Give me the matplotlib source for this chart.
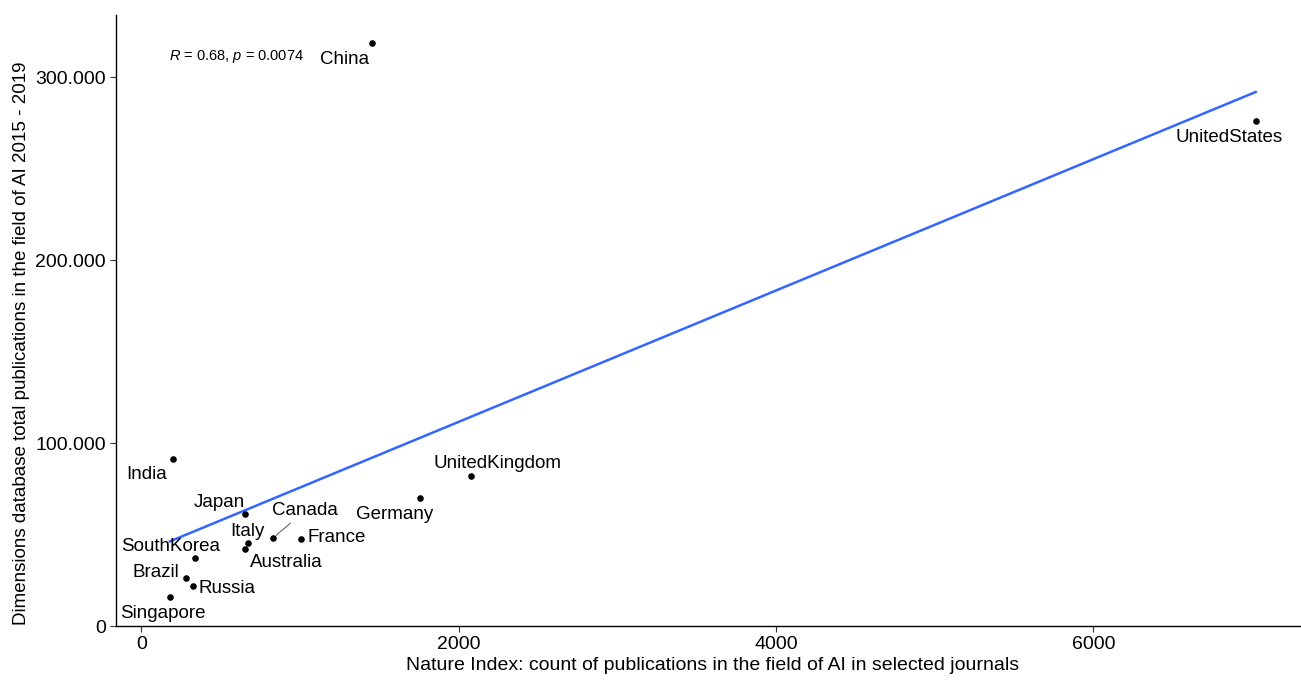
import matplotlib
matplotlib.use("Agg")
import matplotlib.pyplot as plt
import numpy as np

plt.rcParams["font.family"] = ["Liberation Sans", "DejaVu Sans"]
plt.rcParams["mathtext.fontset"] = "custom"
plt.rcParams["mathtext.it"] = "Liberation Sans:italic"
plt.rcParams["mathtext.rm"] = "Liberation Sans"

# Nature Index AI counts vs Dimensions AI publications 2015-2019
countries = ["China", "UnitedStates", "UnitedKingdom", "Germany", "India", "Japan",
             "Italy", "Australia", "Canada", "France", "SouthKorea", "Brazil",
             "Russia", "Singapore"]
nature_index = [1455, 7023, 2076, 1759, 199, 652, 674, 652, 829, 1005, 340, 281, 325, 180]
dimensions = [318600, 275800, 82200, 70000, 91650, 61650, 45650, 42540, 48340, 47800,
              37430, 26350, 22080, 16000]

# label offsets in pixels (repelled placement)
offsets = {
    "China": (-28, -16), "UnitedStates": (-27, -16), "UnitedKingdom": (27, 12),
    "Germany": (-26, -16), "India": (-26, -16), "Japan": (-26, 11),
    "Italy": (-1, 11), "Australia": (42, -14), "Canada": (32, 27),
    "France": (36, 1), "SouthKorea": (-25, 11), "Brazil": (-30, 6),
    "Russia": (34, -2), "Singapore": (-7, -16),
}

x = np.array(nature_index, dtype=float)
y = np.array(dimensions, dtype=float)

fig = plt.figure(figsize=(13.01, 6.8), dpi=100)
ax = fig.add_axes([0.0889, 0.0787, 0.918, 0.8988])

# linear fit over the data range
slope, intercept = np.polyfit(x, y, 1)
xs = np.linspace(x.min(), x.max(), 100)
ax.plot(xs, slope * xs + intercept, color="#3366FF", lw=1.8, zorder=2)

ax.scatter(x, y, s=14, color="black", zorder=3)

for name, xi, yi in zip(countries, x, y):
    dx, dy = offsets[name]
    arrow = None
    if name == "Canada":
        arrow = dict(arrowstyle="-", color="#555555", lw=0.7, shrinkA=1, shrinkB=3)
    ax.annotate(name, (xi, yi), xytext=(dx, dy), textcoords="offset pixels",
                ha="center", va="center", fontsize=13.5, color="black",
                arrowprops=arrow, zorder=4)

ax.text(0.0446, 0.932, r"$R$ = 0.68, $p$ = 0.0074", transform=ax.transAxes,
        ha="left", va="center", fontsize=10.5)

rx = x.max() - x.min()
ry = y.max() - y.min()
ax.set_xlim(x.min() - 0.05 * rx, x.max() + 0.05 * rx)
ax.set_ylim(y.min() - 0.05 * ry, y.max() + 0.05 * ry)
ax.set_xticks([0, 2000, 4000, 6000])
ax.set_yticks([0, 100000, 200000, 300000])
ax.set_yticklabels(["0", "100.000", "200.000", "300.000"])

for sp in ["top", "right"]:
    ax.spines[sp].set_visible(False)
for sp in ["left", "bottom"]:
    ax.spines[sp].set_linewidth(1.0)
    ax.spines[sp].set_color("black")
ax.tick_params(length=4, width=0.8, color="#333333", labelsize=14, labelcolor="black", pad=3)

ax.set_xlabel("Nature Index: count of publications in the field of AI in selected journals",
              fontsize=14, labelpad=3)
ax.set_ylabel("Dimensions database total publications in the field of AI 2015 - 2019",
              fontsize=13.5)
ax.yaxis.set_label_coords(-0.0718, 0.464)

fig.savefig("out.png", dpi=100)
